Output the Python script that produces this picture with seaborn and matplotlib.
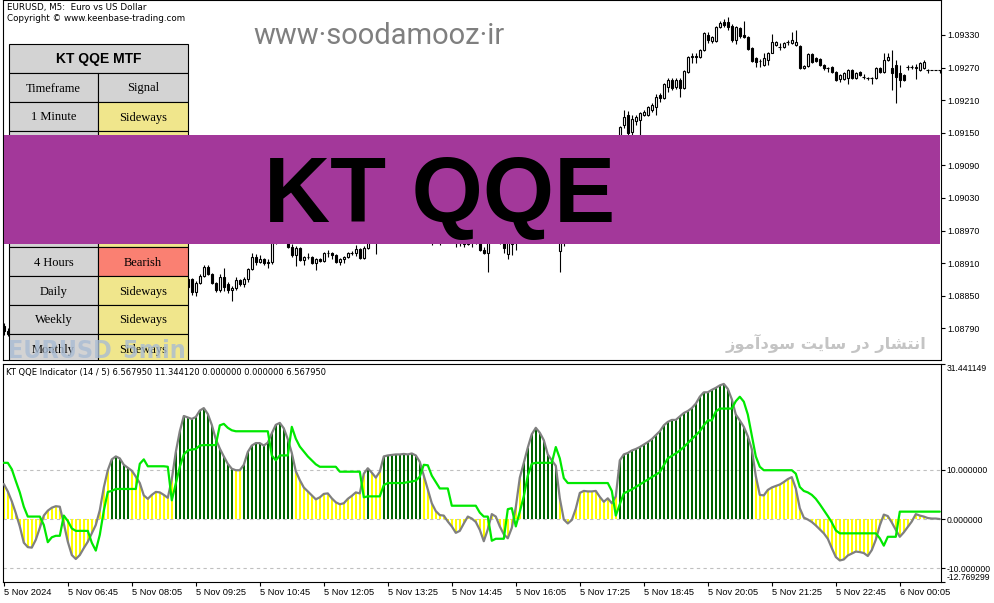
import numpy as np
import pandas as pd
import matplotlib
matplotlib.use("Agg")
import matplotlib.pyplot as plt
from matplotlib.patches import Rectangle
import seaborn as sns

W, H = 994, 603

# ---------------- data ----------------
BASE = 1.08000  # prices below are in points (1e-5) above BASE
open_pts = [795,785,780,776,770,764,760,763,768,772,
            778,782,785,781,784,776,768,760,756,761,
            766,770,775,781,788,796,803,808,812,810,
            806,808,803,800,797,793,795,798,796,799,
            797,795,805,822,838,852,866,880,857,874,
            887,903,890,874,861,885,872,861,864,879,
            872,880,899,922,912,918,910,912,950,962,
            975,966,940,925,938,916,921,922,910,918,
            914,928,929,925,913,918,922,928,928,936,
            920,938,955,962,955,962,975,984,990,998,
            1004,1010,1007,1015,1012,1000,985,972,960,966,
            958,963,957,952,947,950,946,952,955,952,
            934,929,952,960,955,950,926,945,968,992,
            1015,1035,1052,1066,1070,1064,1058,1050,1046,932,
            958,952,960,972,985,998,1002,1000,1005,1010,
            1015,1020,1035,1060,1143,1164,1183,1152,1172,1174,
            1183,1183,1192,1197,1220,1214,1234,1247,1234,1247,
            1232,1262,1290,1292,1290,1302,1330,1319,1319,1345,
            1354,1354,1347,1321,1343,1330,1326,1306,1288,1282,
            1275,1284,1297,1312,1308,1308,1317,1315,1312,1310,
            1269,1273,1295,1288,1286,1275,1269,1271,1262,1249,
            1249,1251,1266,1251,1262,1253,1251,1251,1251,1269,
            1262,1284,1269,1275,1260,1256,1271,1271,1270,1266,
            1269,1266,1266,1266,1266]
close_pts = [785,780,776,770,764,760,763,768,772,778,
             782,785,781,784,776,768,760,756,761,766,
             770,775,781,788,796,803,808,812,810,806,
             808,803,800,797,793,795,798,796,799,797,
             795,805,822,838,852,866,880,857,874,887,
             903,890,874,861,885,866,861,864,879,872,
             880,899,922,912,918,910,912,950,962,975,
             966,940,925,938,916,921,922,910,918,914,
             928,929,925,913,918,922,928,928,936,920,
             938,955,962,955,962,975,984,990,998,1004,
             1010,1007,1015,1012,1000,985,972,960,966,958,
             963,957,952,947,950,946,952,955,952,934,
             929,952,960,955,950,938,950,968,992,1015,
             1035,1052,1066,1070,1064,1058,1050,1046,965,958,
             952,960,972,985,998,1002,1000,1005,1010,1015,
             1020,1035,1060,1140,1161,1179,1150,1175,1179,1186,
             1188,1197,1201,1216,1214,1240,1247,1232,1247,1232,
             1264,1290,1292,1290,1302,1334,1321,1326,1345,1352,
             1348,1345,1321,1345,1328,1326,1304,1282,1280,1283,
             1288,1297,1317,1317,1308,1315,1317,1321,1317,1269,
             1273,1295,1280,1282,1275,1269,1269,1262,1247,1256,
             1260,1266,1251,1260,1256,1253,1251,1251,1269,1262,
             1284,1290,1260,1253,1247,1247,1271,1271,1271,1278,
             1280,1266,1266,1266,1266]
high_pts = [800,790,783,779,772,767,766,770,775,780,
            785,788,787,786,786,778,770,763,764,768,
            772,778,783,790,799,806,811,815,816,813,
            811,810,806,803,800,798,800,801,802,801,
            800,807,825,842,856,869,884,883,877,890,
            907,906,892,876,890,901,875,868,885,881,
            884,902,928,927,925,920,917,958,968,982,
            980,970,945,942,940,923,928,924,920,919,
            930,935,930,926,920,924,930,932,943,938,
            941,965,970,965,968,979,988,995,1003,1008,
            1014,1014,1019,1020,1015,1003,988,975,970,970,
            968,966,960,955,954,953,956,960,958,954,
            940,958,965,963,958,952,954,972,996,1020,
            1040,1058,1072,1078,1074,1068,1062,1054,1050,962,
            962,966,976,990,1002,1008,1006,1010,1016,1020,
            1026,1040,1066,1144,1163,1192,1190,1183,1183,1188,
            1192,1200,1205,1222,1223,1242,1250,1250,1250,1250,
            1266,1292,1297,1297,1304,1336,1336,1328,1347,1356,
            1359,1363,1350,1347,1345,1356,1328,1308,1290,1285,
            1297,1299,1332,1319,1315,1317,1321,1336,1339,1312,
            1275,1297,1297,1290,1288,1277,1271,1273,1264,1258,
            1262,1268,1268,1262,1264,1258,1253,1253,1271,1271,
            1297,1297,1302,1284,1275,1258,1275,1275,1277,1280,
            1284,1267,1266,1266,1266]
low_pts = [778,776,772,766,760,756,757,760,765,770,
           775,779,778,778,773,765,757,752,753,758,
           763,767,772,778,785,793,800,804,806,803,
           802,800,796,794,790,790,792,793,794,794,
           792,793,803,820,835,849,862,852,850,872,
           885,888,872,857,857,858,855,840,860,868,
           866,876,897,907,910,906,901,909,946,958,
           955,938,922,905,914,907,918,908,897,912,
           912,922,917,910,907,910,920,925,924,918,
           918,936,950,927,950,958,970,980,986,993,
           1000,1002,1003,1006,995,980,968,943,955,944,
           953,952,948,940,941,940,944,940,946,932,
           927,894,948,950,946,928,918,925,935,988,
           1010,1030,1046,1060,1058,1052,1045,1040,960,894,
           941,948,955,968,980,994,995,996,1000,1005,
           1010,1015,1030,1055,1140,1158,1140,1146,1165,1146,
           1180,1180,1188,1183,1206,1212,1225,1228,1230,1215,
           1230,1260,1278,1278,1288,1300,1315,1316,1317,1343,
           1345,1339,1318,1313,1325,1324,1302,1280,1272,1272,
           1273,1275,1297,1310,1302,1306,1312,1313,1310,1267,
           1267,1271,1278,1280,1273,1266,1262,1260,1245,1243,
           1247,1240,1249,1249,1254,1249,1247,1240,1249,1260,
           1260,1282,1229,1205,1234,1245,1266,1268,1249,1264,
           1267,1260,1266,1266,1260]

qqe_main = [7.1,5.6,3.6,1.2,-1.5,-4.8,-5.7,-5.8,-4.2,-1.8,
            0.7,1.7,2.3,2.6,2.5,-0.9,-4.6,-7.3,-8.1,-7.3,
            -5.9,-4.6,-2.9,-1.2,1.8,6.4,9.9,12.1,12.7,12.3,
            11.0,10.4,9.8,8.6,7.3,4.8,4.1,4.9,5.5,5.4,
            4.9,4.3,8.1,13.6,17.8,20.9,20.6,20.3,20.7,22.0,
            22.5,21.3,19.1,16.2,14.3,12.7,11.2,10.2,9.9,9.9,
            11.0,13.6,14.9,15.4,15.4,14.9,15.5,17.4,19.1,19.5,
            18.4,16.2,13.4,9.7,7.9,6.4,5.6,4.8,4.0,4.4,
            5.1,5.2,4.2,3.4,3.0,3.2,4.1,4.7,5.4,5.2,
            9.2,10.3,9.4,8.4,9.6,12.7,12.9,13.0,13.1,13.1,
            13.2,13.1,13.3,12.9,11.6,8.8,6.0,3.2,1.6,0.8,
            0.7,-0.5,-1.5,-2.8,-2.4,-0.9,0.5,0.1,-0.6,-2.2,
            -4.5,-2.1,1.0,0.5,-1.5,-3.1,-3.9,-1.8,2.4,8.4,
            11.4,14.5,17.2,18.5,17.5,16.0,13.1,11.9,10.8,4.2,
            -0.1,-0.9,-0.2,2.1,5.3,5.7,5.6,5.6,5.7,4.5,
            3.5,4.2,3.2,4.6,11.9,13.1,13.4,13.9,14.2,14.6,
            15.1,15.6,16.2,17.0,17.8,19.0,19.7,20.1,20.1,20.8,
            21.5,21.9,22.5,23.4,24.8,25.7,25.7,26.2,26.6,27.1,
            27.4,26.4,24.3,21.2,20.0,18.7,16.8,14.2,8.7,4.9,
            4.8,5.9,6.4,6.7,7.0,7.5,8.1,8.5,6.2,2.2,
            0.3,-0.1,-0.6,-1.3,-2.1,-2.9,-4.0,-5.9,-7.7,-8.4,
            -8.2,-7.4,-7.0,-6.6,-6.7,-6.9,-7.5,-6.3,-4.2,-1.3,
            0.9,0.6,-0.7,-2.2,-3.6,-2.7,-1.6,-0.5,1.0,0.7,
            0.5,0.2,0.1,0.1,0.0]
qqe_trail = [11.4,11.4,10.1,7.7,5.4,2.5,0.5,0.5,0.5,0.5,
             -1.2,-4.7,-3.7,-3.4,-3.4,0.7,-0.4,-1.9,-2.4,-2.4,
             -2.4,-2.4,-4.8,-6.4,-3.2,1.7,5.5,5.7,6.1,6.1,
             6.1,6.1,6.1,6.1,11.2,12.1,10.7,10.7,10.7,10.7,
             10.7,10.6,3.8,7.2,10.6,13.1,13.9,14.1,14.2,14.9,
             15.0,15.0,15.0,15.0,19.0,19.3,18.5,18.0,17.8,17.8,
             17.8,17.8,17.8,17.8,17.8,17.8,17.8,12.9,11.9,12.9,
             12.9,12.9,18.7,16.3,14.7,13.7,12.7,11.9,11.1,10.6,
             10.6,10.6,10.6,10.6,9.6,9.6,9.6,9.6,9.6,9.6,
             4.4,4.6,4.6,4.6,4.6,6.9,7.3,7.3,7.3,7.3,
             7.3,7.5,7.6,7.8,8.6,11.0,10.9,8.8,7.5,6.2,
             6.2,6.2,2.7,2.7,2.7,2.7,2.7,2.7,2.7,1.3,
             0.5,0.5,-4.4,-4.0,-4.0,-4.0,2.0,2.2,-1.5,1.5,
             4.6,8.8,11.2,11.4,11.4,11.4,11.4,11.4,14.6,12.3,
             8.3,7.3,7.3,7.3,7.3,7.3,7.3,7.3,7.3,7.3,
             7.3,7.3,5.7,0.7,3.0,5.2,5.6,6.0,6.5,7.0,
             7.5,8.0,8.5,9.0,9.5,10.9,12.3,12.8,13.3,13.9,
             14.6,15.4,16.2,17.0,17.8,19.0,20.0,20.0,21.8,22.4,
             22.4,22.4,22.4,23.9,24.8,23.8,21.2,16.9,12.7,10.6,
             9.9,9.9,9.9,9.9,9.9,9.9,9.9,9.9,9.2,6.5,
             5.7,5.4,4.9,4.1,3.0,1.8,0.6,-0.7,-2.3,-2.9,
             -2.9,-2.9,-2.9,-2.9,-2.9,-2.9,-2.9,-2.9,-2.9,-3.9,
             -5.4,-3.6,-3.6,-3.6,1.5,1.5,1.5,1.5,1.5,1.5,
             1.5,1.5,1.5,1.5,1.5]

time_label_bars = [0, 16, 32, 48, 64, 80, 96, 112, 128, 144, 160, 176, 192, 208, 224]
time_labels = ["5 Nov 2024", "5 Nov 06:45", "5 Nov 08:05", "5 Nov 09:25", "5 Nov 10:45",
               "5 Nov 12:05", "5 Nov 13:25", "5 Nov 14:45", "5 Nov 16:05", "5 Nov 17:25",
               "5 Nov 18:45", "5 Nov 20:05", "5 Nov 21:25", "5 Nov 22:45", "6 Nov 00:05"]
price_ticks = [1.08790, 1.08850, 1.08910, 1.08970, 1.09030,
               1.09090, 1.09150, 1.09210, 1.09270, 1.09330]
ind_ticks = [31.441149, 10.0, 0.0, -10.0, -12.769299]
ind_levels = [10.0, 0.0, -10.0]
hist_threshold = 10.0

table_title = "KT QQE MTF"
table_header = ["Timeframe", "Signal"]
timeframes = ["1 Minute", "5 Minutes", "15 Minutes", "30 Minutes", "1 Hour",
              "4 Hours", "Daily", "Weekly", "Monthly"]
signals = ["Sideways", "Sideways", "Sideways", "Sideways", "Sideways",
           "Bearish", "Sideways", "Sideways", "Sideways"]
signal_colors = {"Sideways": "#F0E68C", "Bearish": "#FA8072", "Bullish": "#90EE90"}

# ---------------- style ----------------
sns.set_theme(style="white")
plt.rcParams["font.family"] = ["DejaVu Sans"]
plt.rcParams["axes.linewidth"] = 0.8

AXFONT = ["Liberation Sans", "DejaVu Sans"]

fig = plt.figure(figsize=(W / 100, H / 100), dpi=100)
fig.patch.set_facecolor("white")

def frect(x0, y0, x1, y1):
    return [x0 / W, 1 - y1 / H, (x1 - x0) / W, (y1 - y0) / H]

ax_p = fig.add_axes(frect(3, 0, 941, 360))
ax_i = fig.add_axes(frect(3, 364, 941, 582))

n = len(close_pts)
x = np.arange(n)
o = BASE + np.array(open_pts) / 1e5
c = BASE + np.array(close_pts) / 1e5
hi = BASE + np.array(high_pts) / 1e5
lo = BASE + np.array(low_pts) / 1e5

XL = (-0.2, 234.3)

# ---------------- price pane ----------------
ax_p.set_facecolor("white")
ax_p.vlines(x, lo, hi, color="black", lw=0.8, zorder=2)
up = c > o
dn = c < o
dj = c == o
ax_p.bar(x[up], (c - o)[up], bottom=o[up], width=0.6, color="white",
         edgecolor="black", linewidth=0.8, zorder=3)
ax_p.bar(x[dn], (o - c)[dn], bottom=c[dn], width=0.6, color="black",
         edgecolor="black", linewidth=0.8, zorder=3)
ax_p.hlines(c[dj], x[dj] - 0.4, x[dj] + 0.4, color="black", lw=0.8, zorder=3)
ax_p.set_xlim(*XL)
ax_p.set_ylim(BASE + 731.8 / 1e5, BASE + 1394.4 / 1e5)
ax_p.set_xticks([])
ax_p.yaxis.tick_right()
ax_p.set_yticks(price_ticks)
ax_p.set_yticklabels([f"{v:.5f}" for v in price_ticks], family=AXFONT)
ax_p.tick_params(axis="y", which="major", right=True, left=False, length=3,
                 width=0.8, pad=1.5, labelsize=6.4, colors="black", direction="out")
for s in ax_p.spines.values():
    s.set_color("black"); s.set_linewidth(0.8)

# ---------------- indicator pane ----------------
ax_i.set_facecolor("white")
for lv in ind_levels:
    ax_i.axhline(lv, color="#C0C0C0", lw=0.8, ls=(0, (3, 3)), zorder=1)
g = np.array(qqe_main)
bar_cols = np.where(g > hist_threshold, "#006400", "#FFFF00")
ax_i.bar(x, g, width=0.55, color=bar_cols, linewidth=0, zorder=2)
df = pd.DataFrame({"bar": x, "main": qqe_main, "trail": qqe_trail})
sns.lineplot(data=df, x="bar", y="main", ax=ax_i, color="#808080", linewidth=1.6, zorder=3)
sns.lineplot(data=df, x="bar", y="trail", ax=ax_i, color="#00E800", linewidth=1.6, zorder=4)
ax_i.set_xlim(*XL)
ax_i.set_ylim(-12.769299, 31.441149)
ax_i.set_xlabel(""); ax_i.set_ylabel("")
ax_i.yaxis.tick_right()
ax_i.set_yticks(ind_ticks)
ax_i.set_yticklabels([f"{v:.6f}" for v in ind_ticks], family=AXFONT)
ax_i.tick_params(axis="y", which="major", right=True, left=False, length=3,
                 width=0.8, pad=1.2, labelsize=6.2, colors="black", direction="out")
ylabs = ax_i.get_yticklabels()
ylabs[0].set_va("top")
ylabs[-1].set_va("bottom")
ax_i.set_xticks(time_label_bars)
ax_i.set_xticklabels(time_labels, ha="left", family=AXFONT)
ax_i.tick_params(axis="x", which="major", bottom=True, length=3, width=0.8,
                 pad=1.5, labelsize=6.7, colors="black", direction="out")
for s in ax_i.spines.values():
    s.set_color("black"); s.set_linewidth(0.8)

# ---------------- overlay (pixel coordinates of the price pane) ----------------
ax_t = fig.add_axes(frect(3, 0, 941, 360))
ax_t.set_xlim(3, 941)
ax_t.set_ylim(360, 0)
ax_t.axis("off")
ax_t.patch.set_visible(False)

# watermark url
ax_t.text(253, 44, "www\u00b7soodamooz\u00b7ir", fontsize=21, color="#7F7F7F",
          family=["Roboto", "DejaVu Sans"], ha="left", va="baseline", zorder=3)

# header texts
ax_t.text(7, 10, "EURUSD, M5:  Euro vs US Dollar", fontsize=6.3, color="black",
          ha="left", va="baseline", zorder=3)
ax_t.text(7, 21, "Copyright \u00a9 www.keenbase-trading.com", fontsize=6.3, color="black",
          ha="left", va="baseline", zorder=3)

# MTF table
x0, x1, x2 = 9, 98, 188
row_h = 29
ax_t.add_patch(Rectangle((x0, 44), x2 - x0, row_h, facecolor="#D3D3D3",
                         edgecolor="black", lw=0.8, zorder=1))
ax_t.text((x0 + x2) / 2, 44 + row_h / 2 + 0.5, table_title, fontsize=10, fontweight="bold",
          family=["Liberation Sans", "DejaVu Sans"], ha="center", va="center",
          color="black", zorder=2)
rows = [(table_header[0], table_header[1], "#D3D3D3")]
rows += [(tf, sg, signal_colors[sg]) for tf, sg in zip(timeframes, signals)]
for k, (tf, sg, col) in enumerate(rows):
    yt = 73 + row_h * k
    ax_t.add_patch(Rectangle((x0, yt), x1 - x0, row_h, facecolor="#D3D3D3",
                             edgecolor="black", lw=0.8, zorder=1))
    ax_t.add_patch(Rectangle((x1, yt), x2 - x1, row_h, facecolor=col,
                             edgecolor="black", lw=0.8, zorder=1))
    ax_t.text((x0 + x1) / 2, yt + row_h / 2 + 1, tf, fontsize=9,
              family=["Liberation Serif", "DejaVu Serif"], ha="center", va="center",
              color="black", clip_on=True, zorder=2)
    ax_t.text((x1 + x2) / 2, yt + row_h / 2 + 1, sg, fontsize=9,
              family=["Liberation Serif", "DejaVu Serif"], ha="center", va="center",
              color="black", clip_on=True, zorder=2)

# symbol watermark
ax_t.text(8, 358, "EURUSD_5min", fontsize=18, fontweight="bold", color="#A9BCD3",
          alpha=0.8, family=["DejaVu Sans"], fontstretch="condensed",
          ha="left", va="baseline", clip_on=True, zorder=3)

# Persian watermark (pre-shaped presentation forms in visual order)
fa_text = ("\uFEAF\uFEEE\uFEE3\uFE81\uFEA9\uFEEE\uFEB3 "
           "\uFE96\uFEF3\uFE8E\uFEB3 "
           "\uFEAD\uFEA9 "
           "\uFEAD\uFE8E\uFEB8\uFE98\uFEE7\uFE8D")
ax_t.text(826, 343, fa_text, fontsize=11.7, color="#C4C4C4", fontweight="bold",
          family=["DejaVu Sans"], ha="center", va="center", zorder=3)

# purple banner (on top of table and candles)
ax_t.add_patch(Rectangle((4, 135), 936, 109, facecolor="#A3389A", edgecolor="none", zorder=10))
ax_t.text(440, 222, "KT QQE", fontsize=66, fontweight="bold", color="black",
          family=["Liberation Sans", "DejaVu Sans"], ha="center", va="baseline", zorder=11)

# indicator caption
fig.text(6 / W, 1 - 375 / H, "KT QQE Indicator (14 / 5) 6.567950 11.344120 0.000000 0.000000 6.567950",
         fontsize=6.0, color="black", ha="left", va="baseline")

fig.savefig("out.png", dpi=100, facecolor="white")
